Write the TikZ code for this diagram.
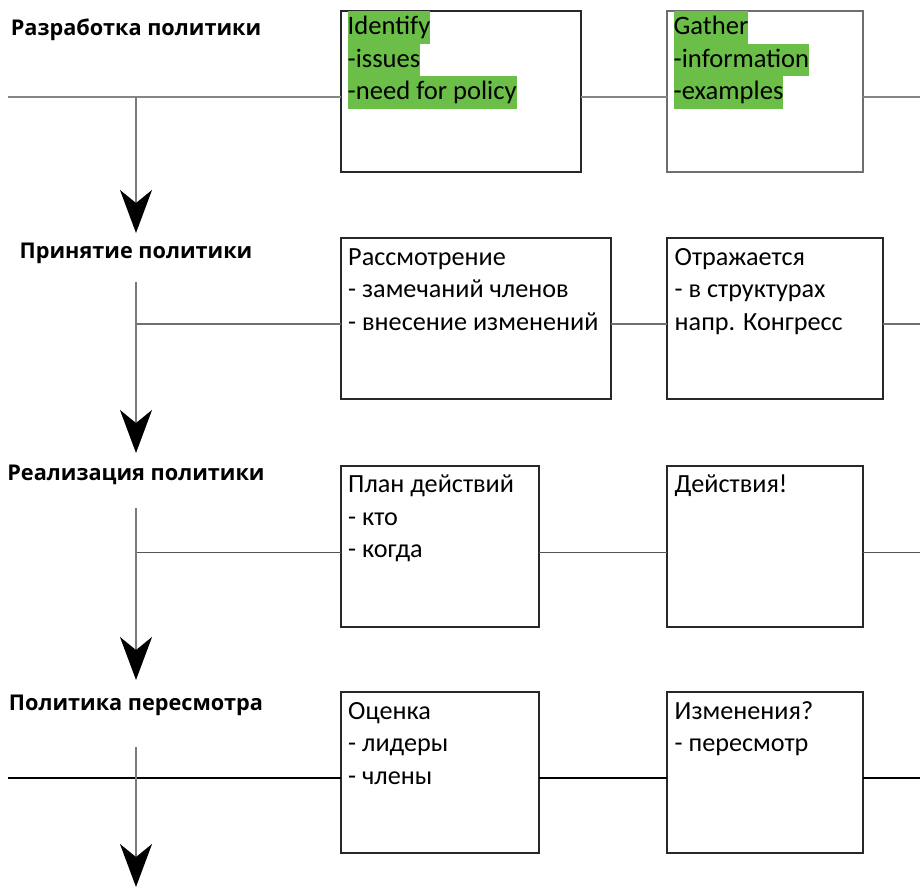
\documentclass[tikz,border=0pt]{standalone}
\usepackage{fontspec}
\setmainfont{Carlito}
\newfontfamily\lblfont{Open Sans}
\usetikzlibrary{arrows.meta}
\definecolor{hlgreen}{RGB}{107,190,71}
\definecolor{gA}{RGB}{133,133,133}
\definecolor{gB}{RGB}{112,112,112}
\definecolor{gC}{RGB}{85,85,85}
\definecolor{vgray}{RGB}{122,122,122}
\definecolor{boxdark}{RGB}{40,40,40}
\definecolor{boxgray}{RGB}{110,110,110}
\begin{document}
\begin{tikzpicture}[x=1pt,y=-1pt,
  box/.style={draw=boxdark, line width=1.6pt, anchor=north west, inner sep=0, outer sep=0, minimum height=161pt},
  txt/.style={anchor=base west, inner sep=0, font=\fontsize{26.2}{32.5}\selectfont},
  hl/.style={txt, fill=hlgreen, text height=23.5pt, text depth=9pt, font=\fontsize{26.6}{32.5}\selectfont},
  lbl/.style={anchor=base, inner sep=0, font=\lblfont\bfseries\fontsize{21.7}{26}\selectfont},
  conn/.style={line width=1.8pt},
  flow/.style={draw=vgray, line width=1.8pt, -{Stealth[length=43pt,width=32pt,inset=13pt,black]}}
]
\useasboundingbox (0,0) rectangle (920,887);

% ---------- boxes ----------
\node[box, minimum width=240pt] (b1a) at (341,11) {};
\node[box, minimum width=196pt, draw=boxgray] (b1b) at (667,11) {};
\node[box, minimum width=270pt] (b2a) at (341,238) {};
\node[box, minimum width=216pt] (b2b) at (667,238) {};
\node[box, minimum width=198pt] (b3a) at (341,466) {};
\node[box, minimum width=196pt] (b3b) at (667,466) {};
\node[box, minimum width=198pt] (b4a) at (341,692) {};
\node[box, minimum width=196pt] (b4b) at (667,692) {};

% ---------- labels ----------
\node[lbl] (lab1) at (136,35) {Разработка политики};
\node[lbl] (lab2) at (136,258) {Принятие политики};
\node[lbl] (lab3) at (136,480) {Реализация политики};
\node[lbl] (lab4) at (136,710) {Политика пересмотра};

% ---------- coordinates ----------
\coordinate (l1) at (8,97);    \coordinate (r1) at (920,97);
\coordinate (l2) at (136,324); \coordinate (r2) at (920,324);
\coordinate (l3) at (136,552.5); \coordinate (r3) at (920,552.5);
\coordinate (l4) at (8,778);   \coordinate (r4) at (920,778);
\coordinate (v1s) at (136,97);  \coordinate (v1e) at (136,233);
\coordinate (v2s) at (136,282); \coordinate (v2e) at (136,453);
\coordinate (v3s) at (136,508); \coordinate (v3e) at (136,680);
\coordinate (v4s) at (136,747); \coordinate (v4e) at (136,887);

% ---------- horizontal connectors ----------
\draw[conn, draw=gA] (l1) -- (l1 -| b1a.west);
\draw[conn, draw=gA] (b1a.east |- l1) -- (b1b.west |- l1);
\draw[conn, draw=gA] (b1b.east |- l1) -- (r1);
\draw[conn, draw=gB] (l2) -- (l2 -| b2a.west);
\draw[conn, draw=gB] (b2a.east |- l2) -- (b2b.west |- l2);
\draw[conn, draw=gB] (b2b.east |- l2) -- (r2);
\draw[conn, draw=gC] (l3) -- (l3 -| b3a.west);
\draw[conn, draw=gC] (b3a.east |- l3) -- (b3b.west |- l3);
\draw[conn, draw=gC] (b3b.east |- l3) -- (r3);
\draw[conn, draw=black] (l4) -- (l4 -| b4a.west);
\draw[conn, draw=black] (b4a.east |- l4) -- (b4b.west |- l4);
\draw[conn, draw=black] (b4b.east |- l4) -- (r4);

% ---------- vertical arrows ----------
\draw[flow] (v1s) -- (v1e);
\draw[flow] (v2s) -- (v2e);
\draw[flow] (v3s) -- (v3e);
\draw[flow] (v4s) -- (v4e);

% ---------- box texts ----------
\node[hl] (t1a1) at (347.5,34.5) {Identify};
\node[hl] (t1a2) at (347.5,67) {-issues};
\node[hl] (t1a3) at (347.5,99.5) {-need for policy};
\node[hl] (t1b1) at (673.5,34.5) {Gather};
\node[hl] (t1b2) at (673.5,67) {-information};
\node[hl] (t1b3) at (673.5,99.5) {-examples};

\node[txt] (t2a1) at (348,265) {Рассмотрение};
\node[txt] (t2a2) at (348,297.5) {- замечаний членов};
\node[txt] (t2a3) at (348,330) {- внесение изменений};
\node[txt] (t2b1) at (674.5,265) {Отражается};
\node[txt] (t2b2) at (674.5,297.5) {- в структурах};
\node[txt] (t2b3) at (674.5,330) {напр. Конгресс};

\node[txt] (t3a1) at (348,492.5) {План действий};
\node[txt] (t3a2) at (348,525) {- кто};
\node[txt] (t3a3) at (348,557.5) {- когда};
\node[txt] (t3b1) at (674.5,492.5) {Действия!};

\node[txt] (t4a1) at (348,719) {Оценка};
\node[txt] (t4a2) at (348,751.5) {- лидеры};
\node[txt] (t4a3) at (348,784) {- члены};
\node[txt] (t4b1) at (674.5,719) {Изменения?};
\node[txt] (t4b2) at (674.5,751.5) {- пересмотр};
\end{tikzpicture}
\end{document}
